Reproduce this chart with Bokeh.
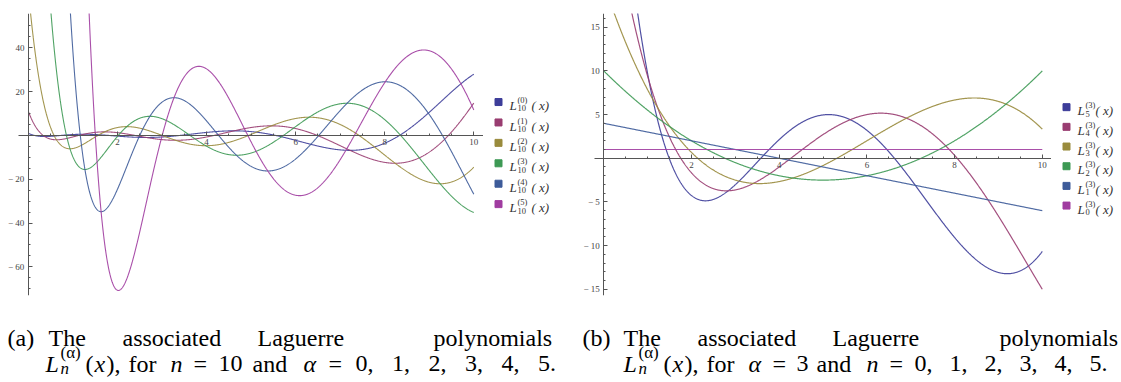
import math
import numpy as np
from bokeh.plotting import figure
from bokeh.layouts import column, row
from bokeh.models import Range1d, FixedTicker
from bokeh.core.properties import value
from bokeh.embed import file_html
from bokeh.resources import INLINE

# ---------------- data ----------------
x_domain = [0.0, 10.0]
left_n = 10
left_alphas = [0, 1, 2, 3, 4, 5]
right_alpha = 3
right_ns = [5, 4, 3, 2, 1, 0]
series_colors = ["#3d3d99", "#993d71", "#998b3d", "#3d9954", "#3d5b99", "#a03ca0"]

left_xticks = [2, 4, 6, 8, 10]
left_yticks = [-60, -40, -20, 20, 40]
right_xticks = [2, 4, 6, 8, 10]
right_yticks = [-15, -10, -5, 5, 10, 15]

left_legend_sub = ["10"] * 6
left_legend_sup = ["(0)", "(1)", "(2)", "(3)", "(4)", "(5)"]
right_legend_sub = ["5", "4", "3", "2", "1", "0"]
right_legend_sup = ["(3)"] * 6

caption_words = ["The", "associated", "Laguerre", "polynomials"]

SERIF = value("Liberation Serif")


def laguerre(n, a, x):
    total = np.zeros_like(x)
    for k in range(n + 1):
        total += (-1) ** k * math.comb(n + a, n - k) * x ** k / math.factorial(k)
    return total


xs = np.linspace(x_domain[0], x_domain[1], 1201)


def minus_label(v):
    return ("− " + str(abs(v))) if v < 0 else str(v)


def style_axes(p, xt, yt, xminor, yminor, xbounds):
    p.xaxis.fixed_location = 0
    p.yaxis.fixed_location = 0
    p.xaxis.bounds = xbounds
    p.xaxis.ticker = FixedTicker(ticks=xt, minor_ticks=xminor)
    p.yaxis.ticker = FixedTicker(ticks=yt, minor_ticks=yminor)
    p.xaxis.major_label_overrides = {v: minus_label(v) for v in xt}
    p.yaxis.major_label_overrides = {v: minus_label(v) for v in yt}
    for ax in (p.xaxis, p.yaxis):
        ax.axis_line_color = "#555555"
        ax.axis_line_width = 1
        ax.major_tick_line_color = "#555555"
        ax.minor_tick_line_color = "#555555"
        ax.major_tick_in = 4
        ax.major_tick_out = 0
        ax.minor_tick_in = 2
        ax.minor_tick_out = 0
        ax.major_label_text_font = "Liberation Serif"
        ax.major_label_text_font_size = "9px"
        ax.major_label_text_color = "#444444"
        ax.major_label_standoff = 4
    p.grid.visible = False
    p.outline_line_color = None


# ---------------- panel (a) ----------------
pa = figure(width=483, height=308, x_range=Range1d(-0.626, 10.218), y_range=Range1d(-73.1, 55.7),
            toolbar_location=None, output_backend="svg", title=None,
            min_border_left=0, min_border_right=0, min_border_top=6, min_border_bottom=13)
for a, c in zip(left_alphas, series_colors):
    pa.line(xs, laguerre(left_n, a, xs), line_color=c, line_width=1.1, line_alpha=0.9)
style_axes(pa, left_xticks, left_yticks,
           list(np.arange(0.5, 10.01, 0.5)), list(np.arange(-70, 55, 5)), (-0.222, 10.218))

# ---------------- panel (b) ----------------
pb = figure(width=476, height=308, x_range=Range1d(-0.6455, 10.21), y_range=Range1d(-15.71, 16.57),
            toolbar_location=None, output_backend="svg", title=None,
            min_border_left=0, min_border_right=0, min_border_top=13, min_border_bottom=12)
for n, c in zip(right_ns, series_colors):
    pb.line(xs, laguerre(n, right_alpha, xs), line_color=c, line_width=1.2, line_alpha=0.9)
style_axes(pb, right_xticks, right_yticks,
           list(np.arange(0.5, 10.01, 0.5)), list(np.arange(-15, 17, 1)), (-0.212, 10.21))


# ---------------- legends ----------------
def legend_fig(width, subs, sups, sq_x, y0, dy, tail_dx):
    p = figure(width=width, height=308, x_range=Range1d(0, width), y_range=Range1d(308, 0),
               toolbar_location=None, output_backend="svg", title=None, min_border=0,
               x_axis_type=None, y_axis_type=None)
    p.grid.visible = False
    p.outline_line_color = None
    ys = [y0 + i * dy for i in range(len(subs))]
    p.scatter([sq_x] * len(ys), ys, marker="square", size=7, fill_color=series_colors,
              line_color=series_colors)
    base = [y + 4 for y in ys]
    p.text([sq_x + 11] * len(ys), base, text=["L"] * len(ys), text_font=SERIF,
           text_font_style="italic", text_font_size="13px", text_color="#333333",
           text_baseline="alphabetic")
    p.text([sq_x + 19] * len(ys), [b + 3 for b in base], text=subs, text_font=SERIF,
           text_font_size="8.5px", text_color="#333333", text_baseline="alphabetic")
    p.text([sq_x + 19] * len(ys), [b - 6 for b in base], text=sups, text_font=SERIF,
           text_font_size="8.5px", text_color="#333333", text_baseline="alphabetic")
    p.text([sq_x + tail_dx] * len(ys), base, text=["( x)"] * len(ys), text_font=SERIF,
           text_font_style="italic", text_font_size="13px", text_color="#333333",
           text_baseline="alphabetic")
    return p


la = legend_fig(92, left_legend_sub, left_legend_sup, 15, 96.7, 22.3, 33)
lb = legend_fig(70, right_legend_sub, right_legend_sup, 15, 102.3, 21.5, 29)

# ---------------- captions ----------------
cap = figure(width=1121, height=74, x_range=Range1d(0, 1121), y_range=Range1d(74, 0),
             toolbar_location=None, output_backend="svg", title=None, min_border=0,
             x_axis_type=None, y_axis_type=None)
cap.grid.visible = False
cap.outline_line_color = None

FS = "24px"
FSS = "17px"


def put(x, y, t, style="normal", size=FS):
    cap.text([x], [y - 308], text=[t], text_font=SERIF, text_font_style=style,
             text_font_size=size, text_color="black", text_baseline="alphabetic")


for tag, tag_x, word_x in (("(a)", 7, [48, 122, 257, 433]), ("(b)", 582, [623, 697, 832, 999])):
    put(tag_x, 337, tag)
    for w, wx in zip(caption_words, word_x):
        put(wx, 337, w)

# line 2 (a)
put(45, 363, "L", "italic")
put(60, 368, "n", "italic", FSS)
put(60, 352, "(α)", "normal", FSS)
put(85, 363, "(")
put(94, 363, "x", "italic")
put(106, 363, "),")
put(128, 363, "for")
put(170, 363, "n", "italic")
put(193, 363, "=")
put(218, 363, "10")
put(252, 363, "and")
put(303, 363, "α", "italic")
put(328, 363, "=")
for i, d in enumerate(["0,", "1,", "2,", "3,", "4,", "5."]):
    put(355 + i * 36.5, 363, d)

# line 2 (b)
put(623, 363, "L", "italic")
put(638, 368, "n", "italic", FSS)
put(638, 352, "(α)", "normal", FSS)
put(663, 363, "(")
put(672, 363, "x", "italic")
put(684, 363, "),")
put(706, 363, "for")
put(748, 363, "α", "italic")
put(772, 363, "=")
put(796, 363, "3")
put(816, 363, "and")
put(866, 363, "n", "italic")
put(889, 363, "=")
for i, d in enumerate(["0,", "1,", "2,", "3,", "4,", "5."]):
    put(914 + i * 35, 363, d)

layout = column(row(pa, la, pb, lb), cap)
open("out.html", "w").write(file_html(layout, INLINE))
